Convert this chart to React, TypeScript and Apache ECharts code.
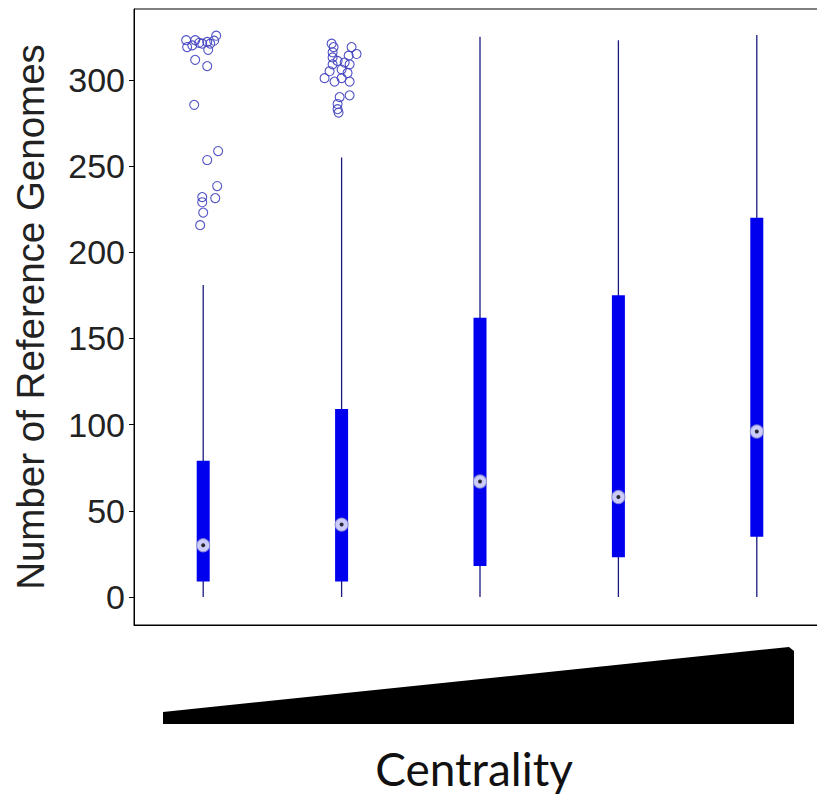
import React, { useEffect, useRef } from 'react';
import * as echarts from 'echarts';

const categories = ['1', '2', '3', '4', '5'];
const whiskerLow = [0, 0, 0, 0, 0];
const q1 = [9, 9, 18, 23, 35];
const median = [30, 42, 67, 58, 96];
const q3 = [79, 109, 162, 175, 220];
const whiskerHigh = [181, 255, 325, 323, 326];

const yTicks = [0, 50, 100, 150, 200, 250, 300];

// outliers: group index, horizontal jitter (category units), value
const outlierGroup = [
  0, 0, 0, 0, 0, 0, 0, 0, 0, 0, 0, 0, 0, 0, 0, 0, 0, 0, 0, 0, 0, 0,
  1, 1, 1, 1, 1, 1, 1, 1, 1, 1, 1, 1, 1, 1, 1, 1, 1, 1, 1, 1, 1, 1, 1,
];
const outlierJitter = [
  -0.123, -0.116, -0.079, -0.058, -0.029, -0.007, 0.029, 0.051, 0.079, 0.094, 0.036,
  -0.058, 0.029, -0.065, 0.108, 0.029, 0.101, 0.087, -0.007, -0.007, 0, -0.022,
  -0.072, -0.058, 0.072, 0.108, 0.051, -0.065, -0.065, -0.029, 0.022, -0.065, 0.058,
  -0.087, 0, 0.043, -0.123, -0.051, 0, 0.058, -0.014, 0.058, -0.029, -0.029, -0.022,
];
const outlierValue = [
  323, 319, 320, 323, 321.5, 321, 322, 321, 322.7, 325.6, 317.4,
  311.6, 308, 285.5, 258.7, 253.5, 238.4, 231.4, 232, 229, 223, 215.7,
  321, 319, 319, 315, 314, 316, 313, 311, 310, 309, 309,
  305, 306, 304, 301, 299, 301, 299, 290, 291, 286, 283, 281,
];

export default function App() {
  const ref = useRef<HTMLDivElement>(null);
  useEffect(() => {
    if (!ref.current) return;
    document.body.style.overflow = 'hidden';
    const chart = echarts.init(ref.current, null, { renderer: 'svg' });
    const boxData = categories.map((_, i) => [i, whiskerLow[i], q1[i], q3[i], whiskerHigh[i]]);
    const outliers = outlierValue.map((v, i) => [outlierGroup[i] + outlierJitter[i], v]);
    chart.setOption({
      animation: false,
      backgroundColor: '#fff',
      grid: {
        left: 134,
        top: 9,
        right: 4,
        bottom: 169,
        show: true,
        borderColor: '#000',
        borderWidth: 1,
      },
      xAxis: [
        {
          type: 'category',
          data: categories,
          boundaryGap: true,
          axisLine: { show: true, onZero: false, lineStyle: { color: '#000', width: 1 } },
          axisTick: { show: false },
          axisLabel: { show: false },
          splitLine: { show: false },
        },
        {
          type: 'value',
          min: -0.5,
          max: 4.5,
          show: false,
          axisLine: { show: false, onZero: false },
          splitLine: { show: false },
        },
      ],
      yAxis: {
        type: 'value',
        min: -16.24,
        max: 341.1,
        name: 'Number of Reference Genomes',
        nameLocation: 'middle',
        nameRotate: 90,
        nameGap: 84,
        nameTextStyle: { fontSize: 38.5, fontFamily: 'Liberation Sans', color: '#222' },
        axisLine: { show: true, onZero: false, lineStyle: { color: '#000', width: 1 } },
        axisTick: { show: true, customValues: yTicks, length: 5, lineStyle: { color: '#000' } },
        axisLabel: {
          customValues: yTicks,
          fontSize: 34,
          fontFamily: 'Liberation Sans',
          color: '#222',
          margin: 9,
        },
        splitLine: { show: false },
      },
      series: [
        {
          type: 'custom',
          xAxisIndex: 0,
          data: boxData,
          encode: { x: 0, y: [1, 2, 3, 4] },
          renderItem: (params: any, api: any) => {
            const idx = api.value(0);
            const lo = api.coord([idx, api.value(1)]);
            const b1 = api.coord([idx, api.value(2)]);
            const b3 = api.coord([idx, api.value(3)]);
            const hi = api.coord([idx, api.value(4)]);
            const w = 13;
            return {
              type: 'group',
              children: [
                {
                  type: 'line',
                  shape: { x1: lo[0], y1: lo[1], x2: hi[0], y2: hi[1] },
                  style: { stroke: '#1a1a80', lineWidth: 1.3 },
                },
                {
                  type: 'rect',
                  shape: { x: b3[0] - w / 2, y: b3[1], width: w, height: b1[1] - b3[1] },
                  style: { fill: '#0000ee' },
                },
              ],
            };
          },
        },
        {
          type: 'scatter',
          xAxisIndex: 1,
          data: outliers,
          symbol: 'circle',
          symbolSize: 9,
          itemStyle: { color: 'rgba(255,255,255,0)', borderColor: '#4040c0', borderWidth: 1.1, opacity: 0.9 },
        },
        {
          type: 'scatter',
          xAxisIndex: 0,
          data: categories.map((_, i) => [i, median[i]]),
          symbol: 'circle',
          symbolSize: 13,
          itemStyle: { color: '#fff', borderColor: '#9090d0', borderWidth: 1.2 },
          z: 5,
        },
        {
          type: 'scatter',
          xAxisIndex: 0,
          data: categories.map((_, i) => [i, median[i]]),
          symbol: 'circle',
          symbolSize: 4,
          itemStyle: { color: '#000' },
          z: 6,
        },
      ],
      graphic: [
        {
          type: 'polygon',
          shape: { points: [[163, 712], [789, 647], [794, 651], [794, 724], [163, 724]] },
          style: { fill: '#000' },
        },
        {
          type: 'text',
          x: 474,
          y: 768,
          style: {
            text: 'Centrality',
            font: '46px Lato',
            fill: '#111',
            textAlign: 'center',
            textVerticalAlign: 'middle',
          },
        },
      ],
    });
    return () => chart.dispose();
  }, []);
  return (
    <div
      ref={ref}
      style={{ position: 'fixed', left: 0, top: 0, width: 830, height: 794, background: '#fff' }}
    />
  );
}
